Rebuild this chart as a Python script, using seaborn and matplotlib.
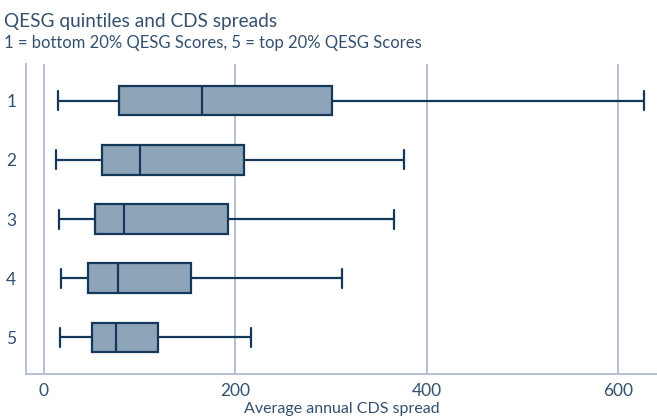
import matplotlib
matplotlib.use("Agg")
import matplotlib.pyplot as plt
import pandas as pd
import seaborn as sns

# Five-number summaries of average annual CDS spread per QESG quintile
quintiles = ["1", "2", "3", "4", "5"]
whisker_low = [15, 13, 16, 18.5, 17]
q1 = [79, 61, 54, 46, 51]
median = [166, 101, 84, 77.5, 76]
q3 = [301, 209.5, 192.5, 154, 119.5]
whisker_high = [627, 376, 366, 311.5, 217]
x_ticks = [0, 200, 400, 600]

rows = []
for i, q in enumerate(quintiles):
    for v in (whisker_low[i], q1[i], median[i], q3[i], whisker_high[i]):
        rows.append({"quintile": q, "spread": v})
df = pd.DataFrame(rows)

sns.set_theme(style="white")
plt.rcParams["font.family"] = ["Lato", "DejaVu Sans"]

navy = "#14385a"
text_c = "#34506f"
fill_c = "#8ea4b9"
grid_c = "#b6c0d4"

fig = plt.figure(figsize=(6.57, 4.2), dpi=100)
ax = fig.add_axes([26 / 657, (420 - 373.5) / 420, 1 - 26 / 657, (373.5 - 64) / 420])

sns.boxplot(
    data=df, x="spread", y="quintile", order=quintiles, orient="h",
    whis=(0, 100), width=0.5, color=fill_c, linecolor=navy,
    linewidth=1.6, saturation=1, showfliers=False, ax=ax,
)

# whisker caps a bit shorter than the box height
cap_values = set(whisker_low) | set(whisker_high)
for line in ax.lines:
    xs = line.get_xdata()
    ys = line.get_ydata()
    if len(xs) == 2 and xs[0] == xs[1] and xs[0] in cap_values and ys[0] != ys[1]:
        c = (ys[0] + ys[1]) / 2
        line.set_ydata([c - 0.16, c + 0.16])

ax.set_xlim(-18.3, 640.7)
ax.set_ylim(4.61, -0.62)
ax.set_xticks(x_ticks)
ax.set_xticklabels([str(t) for t in x_ticks])
for t in x_ticks:
    ax.axvline(t, color=grid_c, lw=1.4, zorder=0)

for s in ("top", "right"):
    ax.spines[s].set_visible(False)
for s in ("left", "bottom"):
    ax.spines[s].set_color(grid_c)
    ax.spines[s].set_linewidth(1.4)

ax.tick_params(axis="both", length=0, labelsize=12.5, colors=text_c)
ax.tick_params(axis="y", pad=7)
ax.tick_params(axis="x", pad=7)
ax.set_ylabel("")
ax.set_xlabel("Average annual CDS spread", fontsize=11.5, color=text_c, labelpad=2)

fig.text(4 / 657, 1 - 27 / 420, "QESG quintiles and CDS spreads",
         fontsize=13.7, color=text_c, ha="left", va="baseline")
fig.text(4 / 657, 1 - 48 / 420, "1 = bottom 20% QESG Scores, 5 = top 20% QESG Scores",
         fontsize=12, color=text_c, ha="left", va="baseline")

fig.savefig("out.png", dpi=100)
